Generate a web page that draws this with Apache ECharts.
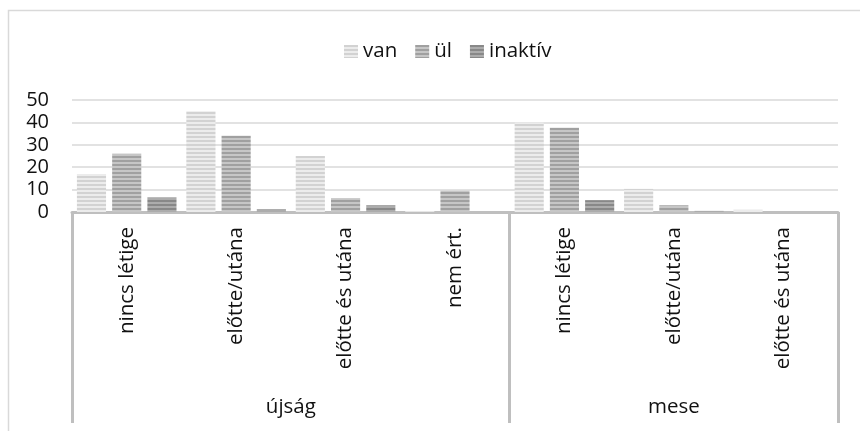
<!DOCTYPE html>
<html>
<head>
<meta charset="utf-8">
<script src="https://cdn.jsdelivr.net/npm/echarts@6/dist/echarts.min.js"></script>
<style>
html,body{margin:0;padding:0;background:#fff;}
#chart{width:860px;height:431px;}
</style>
</head>
<body>
<div id="chart"></div>
<script>
// ---- data ----
const categories = ['nincs létige','előtte/utána','előtte és utána','nem ért.','nincs létige','előtte/utána','előtte és utána'];
const groups = ['újság','mese'];
const groupSizes = [4,3];
const seriesNames = ['van','ül','inaktív'];
const van     = [17, 45, 25, 0.4, 40, 10.3, 1];
const ul      = [26, 34, 6.2, 9.5, 37.6, 3, 0];
const inaktiv = [6.5, 1.2, 3, 0, 5.3, 0.5, 0];
const yTicks = [0,10,20,30,40,50];

const FONT = '"Open Sans", sans-serif';
const TXT = '#111';
function stripe(dark, light){
  const c = document.createElement('canvas');
  c.width = 4; c.height = 4;
  const g = c.getContext('2d');
  g.fillStyle = light; g.fillRect(0,0,4,4);
  g.fillStyle = dark; g.fillRect(0,0,4,2);
  return {image: c, repeat: 'repeat'};
}
const fills = [
  stripe('#d2d2d2','#ececec'),
  stripe('#a0a0a0','#c6c6c6'),
  stripe('#888888','#acacac')
];

// group boundaries / centers from group sizes
const bounds = [0]; const centers = [];
groupSizes.forEach((s,i)=>{ centers.push(bounds[i] + s/2); bounds.push(bounds[i]+s); });

const chart = echarts.init(document.getElementById('chart'), null, {renderer:'canvas'});
const values = [van, ul, inaktiv];
chart.setOption({
  animation:false,
  backgroundColor:'#fff',
  textStyle:{fontFamily:FONT},
  graphic:[{type:'rect', shape:{x:8.5,y:10.5,width:880,height:440}, style:{fill:'none', stroke:'#d9d9d9', lineWidth:1.5}, silent:true}],
  legend:{
    data: seriesNames, left:339, top:36, icon:'rect',
    itemWidth:14, itemHeight:13, itemGap:18,
    textStyle:{fontSize:20.5, color:TXT, fontFamily:FONT}
  },
  grid:{left:72, right:22, top:100, bottom:219, containLabel:false},
  xAxis:[{
    type:'category', data:categories,
    axisLine:{show:true, lineStyle:{color:'#bfbfbf', width:3}},
    axisTick:{show:false},
    axisLabel:{rotate:90, margin:15, fontSize:20.5, color:TXT, fontFamily:FONT, interval:0}
  },{
    type:'value', min:0, max:categories.length, position:'bottom', offset:0,
    axisLine:{show:false}, splitLine:{show:false},
    axisTick:{show:true, customValues:bounds, length:211, lineStyle:{color:'#bfbfbf', width:3}},
    axisLabel:{show:true, customValues:centers, margin:185, fontSize:20.5, color:TXT, fontFamily:FONT,
      formatter:(v)=>groups[centers.indexOf(v)]}
  }],
  yAxis:{
    type:'value', min:0, max:50, interval:10,
    axisLine:{show:false}, axisTick:{show:false},
    splitLine:{lineStyle:{color:'#d9d9d9', width:1.5}},
    axisLabel:{fontSize:20, color:TXT, margin:23, fontFamily:FONT,
      formatter:(v)=> yTicks.includes(v) ? String(v) : ''}
  },
  series: seriesNames.map((n,i)=>({
    name:n, type:'bar', data:values[i],
    barGap:'21%', barCategoryGap:'9%',
    itemStyle:{color:fills[i]}
  }))
});
</script>
</body>
</html>
